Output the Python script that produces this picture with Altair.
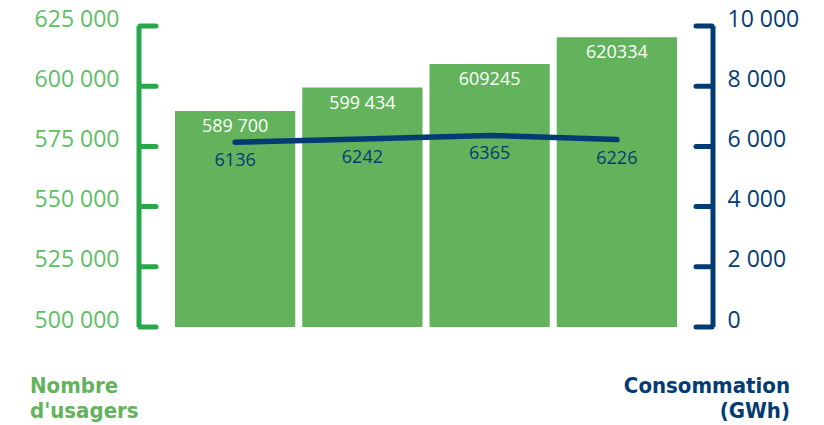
import altair as alt
import pandas as pd

years = ["2016", "2017", "2018", "2019"]
usagers = [589700, 599434, 609245, 620334]
usagers_labels = ["589 700", "599 434", "609245", "620334"]
conso = [6136, 6242, 6365, 6226]
conso_labels = ["6136", "6242", "6365", "6226"]
left_ticks = [500000, 525000, 550000, 575000, 600000, 625000]
right_ticks = [0, 2000, 4000, 6000, 8000, 10000]

GREEN_BAR = "#62b35c"
GREEN_AXIS = "#28a84a"
GREEN_LABEL = "#5cbf63"
BLUE = "#033c73"
FONT = "Open Sans"
TITLE_FONT = "DejaVu Sans Condensed, Roboto, sans-serif"

W, H = 574, 301

df = pd.DataFrame({
    "year": years,
    "usagers": usagers,
    "ulabel": usagers_labels,
    "conso": conso,
    "clabel": conso_labels,
})
lt = pd.DataFrame({"v": left_ticks})
rt = pd.DataFrame({"v": right_ticks})
one = pd.DataFrame({"k": [0]})

xscale = alt.Scale(paddingInner=0.055, paddingOuter=0.283)
yl = alt.Scale(domain=[500000, 625000], nice=False, zero=False)
yr = alt.Scale(domain=[0, 10000], nice=False)

fmt = "replace(format(datum.value, ','), ',', ' ')"

base = alt.Chart(df)

bars = base.mark_bar(color=GREEN_BAR, clip=True).encode(
    x=alt.X("year:N", scale=xscale, sort=years, title=None,
            axis=alt.Axis(domain=False, ticks=False, labelAngle=0, labelFont=FONT,
                          labelFontSize=21, labelColor=BLUE, labelPadding=7)),
    y=alt.Y("usagers:Q", scale=yl, title=None,
            axis=alt.Axis(values=left_ticks, domain=False, ticks=False, grid=False,
                          labelFont=FONT, labelFontSize=23, labelColor=GREEN_LABEL,
                          labelPadding=20, labelOffset=-7, labelExpr=fmt,
                          orient="left")),
)

bar_text = base.mark_text(color="white", font=FONT, fontSize=18, baseline="middle", dy=16).encode(
    x=alt.X("year:N", scale=xscale, sort=years, axis=None),
    y=alt.Y("usagers:Q", scale=yl, axis=None),
    text="ulabel:N",
)

line = base.mark_line(color=BLUE, strokeWidth=5.5, strokeCap="round").encode(
    x=alt.X("year:N", scale=xscale, sort=years, axis=None),
    y=alt.Y("conso:Q", scale=yr, title=None,
            axis=alt.Axis(values=right_ticks, domain=False, ticks=False, grid=False,
                          labelFont=FONT, labelFontSize=23, labelColor=BLUE,
                          labelPadding=14, labelOffset=-7, labelExpr=fmt,
                          orient="right")),
)

line_text = base.mark_text(color=BLUE, font=FONT, fontSize=18, baseline="middle", dy=19).encode(
    x=alt.X("year:N", scale=xscale, sort=years, axis=None),
    y=alt.Y("conso:Q", scale=yr, axis=None),
    text="clabel:N",
)

left_dom = alt.Chart(one).mark_rule(color=GREEN_AXIS, strokeWidth=5).encode(
    x=alt.value(0), y=alt.value(0), y2=alt.value(H)
)
left_tk = alt.Chart(lt).mark_rule(color=GREEN_AXIS, strokeWidth=5, strokeCap="round").encode(
    x=alt.value(1), x2=alt.value(17),
    y=alt.Y("v:Q", scale=yl, axis=None),
)
right_dom = alt.Chart(one).mark_rule(color=BLUE, strokeWidth=5).encode(
    x=alt.value(W), y=alt.value(0), y2=alt.value(H)
)
right_tk = alt.Chart(rt).mark_rule(color=BLUE, strokeWidth=5, strokeCap="round").encode(
    x=alt.value(W - 17), x2=alt.value(W - 1),
    y=alt.Y("v:Q", scale=yr, axis=None),
)


def title_line(txt, color, align, x, y):
    return alt.Chart(one).mark_text(
        text=txt, font=TITLE_FONT, fontSize=22, fontWeight="bold",
        color=color, align=align, baseline="middle"
    ).encode(x=alt.value(x), y=alt.value(y))


t1 = title_line("Nombre", GREEN_BAR, "left", -109, 360)
t2 = title_line("d'usagers", GREEN_BAR, "left", -109, 385)
t3 = title_line("Consommation", BLUE, "right", 651, 360)
t4 = title_line("(GWh)", BLUE, "right", 651, 385)

chart = alt.layer(
    bars, bar_text, left_dom, left_tk, line, line_text, right_dom, right_tk, t1, t2, t3, t4
).resolve_scale(y="independent").properties(
    width=W, height=H,
    autosize=alt.AutoSizeParams(type="none"),
    padding={"left": 139, "top": 26, "right": 111, "bottom": 98},
).configure_view(stroke=None)

chart.save("out.html", embed_options={"renderer": "svg", "actions": False})
